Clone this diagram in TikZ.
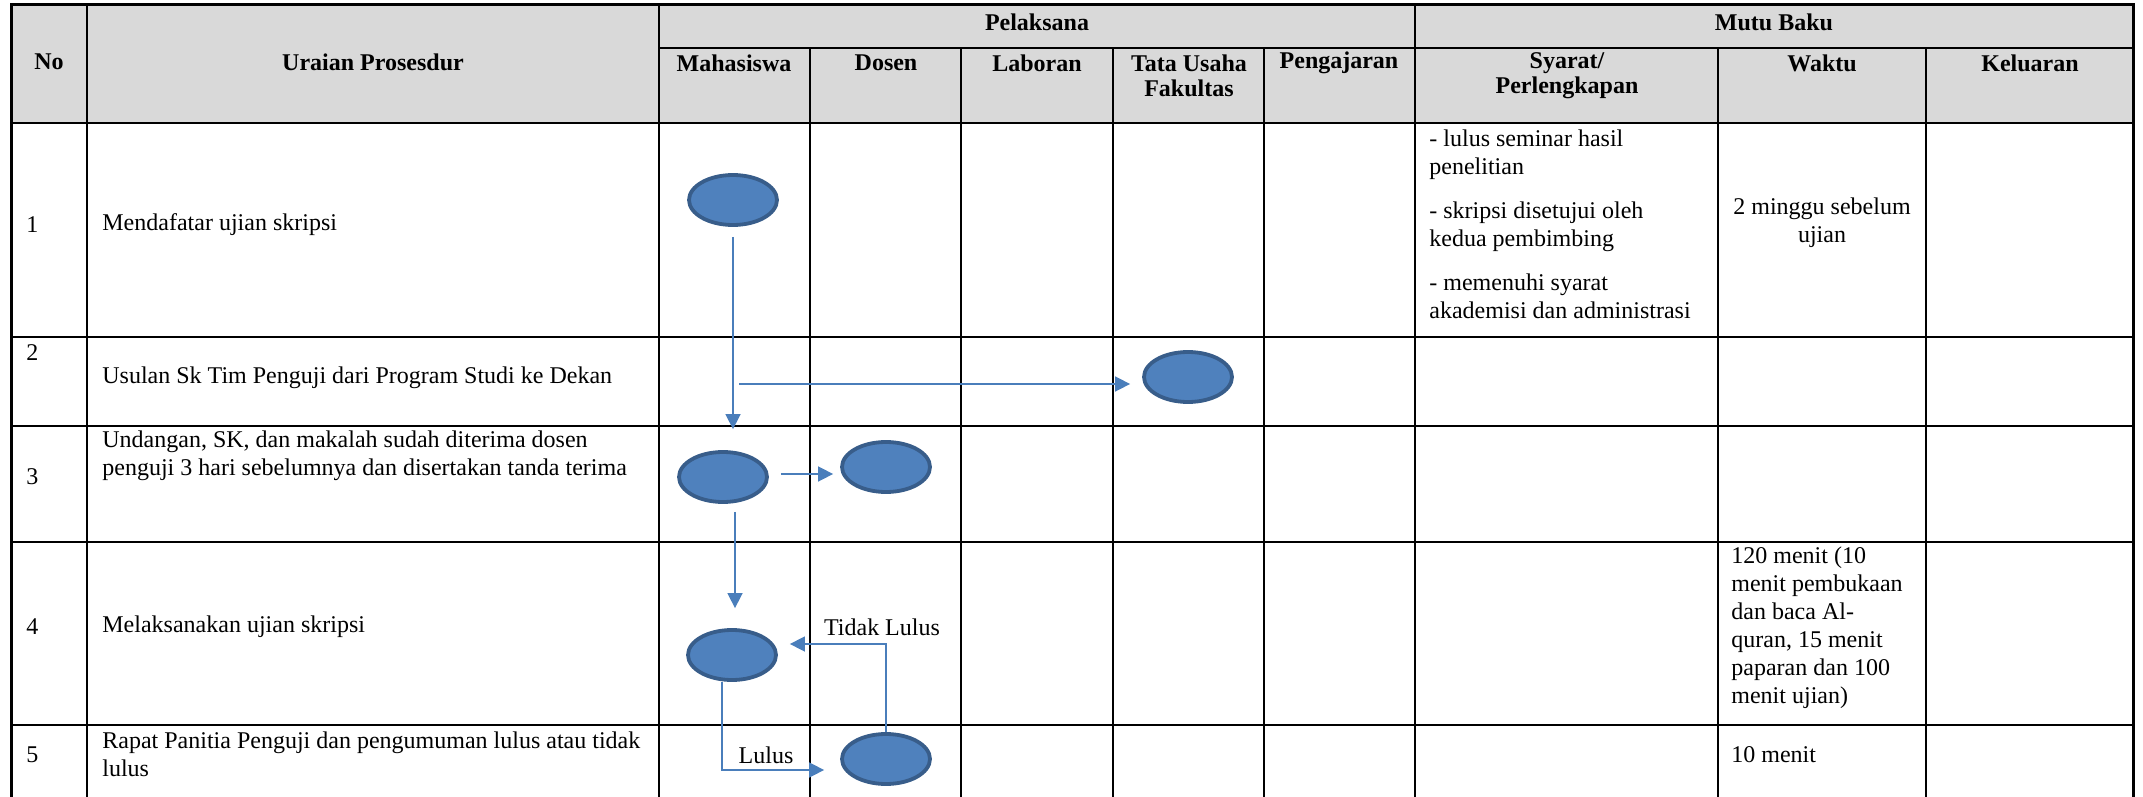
\documentclass[tikz,border=0pt]{standalone}
\usepackage{fontspec}
\setmainfont{Liberation Serif}
\usepackage{tikz}
\usetikzlibrary{positioning,arrows.meta,shapes.geometric}
\usepackage{xcolor}
\definecolor{ovalfill}{HTML}{4F81BD}
\definecolor{ovaldraw}{HTML}{385D8A}
\definecolor{flowblue}{HTML}{4A7EBB}
\definecolor{headgray}{HTML}{D9D9D9}

\begin{document}
\begin{tikzpicture}[
    x=0.5pt, y=-0.5pt,
    >={Triangle[length=7.5pt,width=7.5pt]},
    every node/.style={font=\fontsize{12}{14}\selectfont, inner sep=0pt},
    head/.style={font=\fontsize{12}{12.5}\selectfont\bfseries, align=center},
    cell/.style={anchor=west, align=left},
    oval/.style={ellipse, draw=ovaldraw, fill=ovalfill, line width=1.9pt, minimum width=44pt, minimum height=25pt},
    flow/.style={->, draw=flowblue, line width=0.8pt},
    tableline/.style={line width=1pt},
    outerline/.style={line width=1.5pt}
]
\useasboundingbox (0,0) rectangle (2143,797);

% table frame
\fill[headgray] (11,5) rectangle (2133,123);
\draw[tableline] (11,123) -- (2133,123);
\draw[tableline] (11,337) -- (2133,337);
\draw[tableline] (11,426) -- (2133,426);
\draw[tableline] (11,542) -- (2133,542);
\draw[tableline] (11,725) -- (2133,725);
\draw[tableline] (659,48) -- (2133,48);
\draw[tableline] (87,5) -- (87,797);
\draw[tableline] (659,5) -- (659,797);
\draw[tableline] (1415,5) -- (1415,797);
\draw[tableline] (810,48) -- (810,797);
\draw[tableline] (961,48) -- (961,797);
\draw[tableline] (1113,48) -- (1113,797);
\draw[tableline] (1264,48) -- (1264,797);
\draw[tableline] (1718,48) -- (1718,797);
\draw[tableline] (1926,48) -- (1926,797);
\draw[outerline] (11,797) -- (11,5) -- (2133,5) -- (2133,797);

% header
\node[head] (hno) at (49,62) {No};
\node[head] (hura) at (373,62) {Uraian Prosesdur};
\node[head] (hpel) at (1037,22) {Pelaksana};
\node[head] (hmutu) at (1774,22) {Mutu Baku};
\node[head] (hmhs) at (734,63) {Mahasiswa};
\node[head] (hdsn) at (886,63) {Dosen};
\node[head] (hlab) at (1037,63) {Laboran};
\node[head] (htu) at (1189,76) {Tata Usaha\\Fakultas};
\node[head] (hpgj) at (1339,63) {Pengajaran};
\node[head] (hsyr) at (1567,76) {Syarat/\\Perlengkapan};
\node[head] (hwkt) at (1822,63) {Waktu};
\node[head] (hkel) at (2030,63) {Keluaran};

% rows
\node[cell] (n1) at (26,225) {1};
\node[cell] (u1) at (102,225) {Mendafatar ujian skripsi};
\node[cell] (n2) at (26,353) {2};
\node[cell] (u2) at (102,378) {Usulan Sk Tim Penguji dari Program Studi ke Dekan};
\node[cell] (n3) at (26,477) {3};
\node[cell] (u3) at (102,456) {Undangan, SK, dan makalah sudah diterima dosen\\penguji 3 hari sebelumnya dan disertakan tanda terima};
\node[cell] (n4) at (26,627) {4};
\node[cell] (u4) at (102,627) {Melaksanakan ujian skripsi};
\node[cell] (n5) at (26,755) {5};
\node[cell] (u5) at (102,754) {Rapat Panitia Penguji dan pengumuman lulus atau tidak\\lulus};

\node[cell] (syr1) at (1429,224) {- lulus seminar hasil\\penelitian\\[8pt]- skripsi disetujui oleh\\kedua pembimbing\\[8pt]- memenuhi syarat\\akademisi dan administrasi};
\node[align=center] (wkt1) at (1822,223) {2 minggu sebelum\\ujian};
\node[cell] (wkt4) at (1731,628) {120 menit (10\\menit pembukaan\\dan baca Al-\\quran, 15 menit\\paparan dan 100\\menit ujian)};
\node[cell] (wkt5) at (1731,755) {10 menit};

% flow
\node[oval] (mhs1) at (733,200) {};
\node[oval] (tu2) at (1188,377) {};
\node[oval] (mhs3) at (723,477) {};
\node[oval] (dsn3) at (886,467) {};
\node[oval] (mhs4) at (732,655) {};
\node[oval] (dsn5) at (886,759) {};
\coordinate (fork) at (731,384);

\draw[flow, shorten <=5pt, shorten >=10.5pt] (mhs1.south) -- (mhs1.south |- mhs3.north);
\draw[flow, shorten <=4pt, shorten >=6pt] (fork) -- (fork -| tu2.west);
\draw[flow, shorten <=6pt, shorten >=3.5pt] ([yshift=1.5pt]mhs3.east) -- ([yshift=1.5pt]mhs3.east -| dsn3.west);
\draw[flow, shorten <=4pt, shorten >=10pt] ([xshift=6pt]mhs3.south) -- ([xshift=6pt]mhs3.south |- mhs4.north);
\draw[flow, shorten >=6pt] (dsn5.north) |- ([yshift=5.5pt]mhs4.east);
\draw[flow, shorten >=8pt] ([xshift=-5pt]mhs4.south) |- ([yshift=-5.5pt]dsn5.west);
\node (tdk) at (882,627) {Tidak Lulus};
\node (lls) at (766,755) {Lulus};

\end{tikzpicture}
\end{document}
